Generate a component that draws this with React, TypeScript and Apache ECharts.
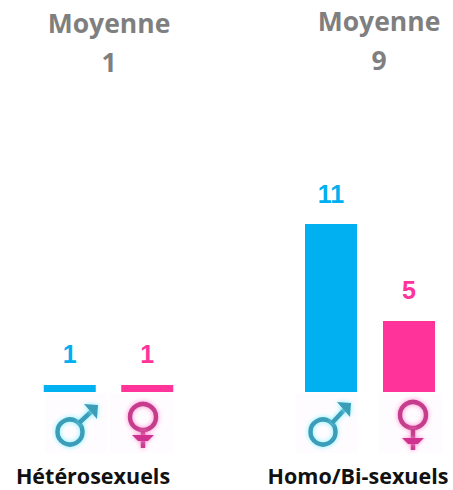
import React, { useEffect, useRef } from "react";
import * as echarts from "echarts";

const groups = ["Hétérosexuels", "Homo/Bi-sexuels"];
const averages = ["1", "9"];
const maleValues = [0.46, 11];
const femaleValues = [0.46, 4.65];
const maleLabels = ["1", "11"];
const femaleLabels = ["1", "5"];
const sexes = ["Homme", "Femme"];

const BLUE = "#00B0F0";
const PINK = "#FF3399";
const GREY = "#7F7F7F";
const FONT = "'Open Sans', 'DejaVu Sans', sans-serif";

function maleIcon(cx: number, cy: number, tipX: number, tipY: number, bgX: number, bgW: number) {
  const stroke = "#3A9DB8";
  const style = { stroke, lineWidth: 4.5, fill: "none", shadowColor: "#7FF0FF", shadowBlur: 5 };
  return [
    { type: "rect", shape: { x: bgX, y: 393, width: bgW, height: 60 }, style: { fill: "#FFFCFF" }, silent: true },
    { type: "circle", shape: { cx, cy, r: 12.5 }, style },
    { type: "line", shape: { x1: cx + 9, y1: cy - 9, x2: tipX - 5, y2: tipY + 5 }, style },
    {
      type: "polygon",
      shape: { points: [[tipX, tipY], [tipX - 14, tipY - 1], [tipX - 1, tipY + 14]] },
      style: { fill: stroke, shadowColor: "#7FF0FF", shadowBlur: 5 },
    },
  ];
}

function femaleIcon(cx: number, cy: number, bottom: number, barY: number, bgX: number, bgW: number) {
  const stroke = "#C73E8E";
  const style = { stroke, lineWidth: 4.5, fill: "none", shadowColor: "#FF8FD0", shadowBlur: 5 };
  return [
    { type: "rect", shape: { x: bgX, y: 393, width: bgW, height: 60 }, style: { fill: "#FFFCFF" }, silent: true },
    { type: "circle", shape: { cx, cy, r: 13 }, style },
    {
      type: "rect",
      shape: { x: cx - 2.25, y: cy + 14, width: 4.5, height: bottom - cy - 14 },
      style: { fill: stroke, shadowColor: "#FF8FD0", shadowBlur: 5 },
    },
    {
      type: "polygon",
      shape: { points: [[cx - 11, barY - 3], [cx + 11, barY - 3], [cx + 5, barY + 3], [cx - 5, barY + 3]] },
      style: { fill: "#D0308F", shadowColor: "#FF8FD0", shadowBlur: 4 },
    },
  ];
}

export default function App() {
  const ref = useRef<HTMLDivElement>(null);
  useEffect(() => {
    const chart = echarts.init(ref.current!, undefined, { renderer: "svg" });
    const grids = [
      { left: 31, width: 155, top: 224, height: 168, outerBoundsMode: "none" },
      { left: 292, width: 156, top: 224, height: 168, outerBoundsMode: "none" },
    ];
    const centers = [109, 379];
    const yOffsetTitle = [3, 1];
    const nameCenters = [93, 358];
    chart.setOption({
      animation: false,
      backgroundColor: "#FFFFFF",
      grid: grids,
      title: [
        ...groups.map((_, i) => ({
          text: "Moyenne\n" + averages[i],
          left: centers[i],
          top: yOffsetTitle[i],
          padding: 0,
          textAlign: "center",
          textStyle: { color: GREY, fontFamily: FONT, fontWeight: "bold", fontSize: 26.5, lineHeight: 39 },
        })),
        ...groups.map((g, i) => ({
          text: g,
          left: nameCenters[i],
          top: 460,
          padding: 0,
          textAlign: "center",
          textStyle: { color: "#111111", fontFamily: FONT, fontWeight: "bold", fontSize: 21.5, lineHeight: 30 },
        })),
      ],
      xAxis: groups.map((_, i) => ({
        type: "category",
        gridIndex: i,
        data: sexes,
        axisLine: { show: false },
        axisTick: { show: false },
        axisLabel: { show: false },
      })),
      yAxis: groups.map((_, i) => ({
        type: "value",
        gridIndex: i,
        min: 0,
        max: 11,
        show: false,
        splitLine: { show: false },
      })),
      series: groups.map((_, i) => ({
        type: "bar",
        xAxisIndex: i,
        yAxisIndex: i,
        barWidth: 52,
        data: [
          {
            value: maleValues[i],
            itemStyle: { color: BLUE },
            label: { color: BLUE, formatter: maleLabels[i] },
          },
          {
            value: femaleValues[i],
            itemStyle: { color: PINK },
            label: { color: PINK, formatter: femaleLabels[i] },
          },
        ],
        label: {
          show: true,
          position: "top",
          distance: 18,
          fontFamily: "'Liberation Sans', Arial, sans-serif",
          fontWeight: "bold",
          fontSize: 25,
        },
      })),
      graphic: [
        ...maleIcon(70, 432, 98, 405, 45, 62),
        ...femaleIcon(143, 417, 448, 438, 110, 63),
        ...maleIcon(323, 432, 351, 403, 296, 62),
        ...femaleIcon(413, 415, 450, 441, 379, 64),
      ],
    });
    return () => chart.dispose();
  }, []);
  return <div ref={ref} style={{ position: "fixed", left: 0, top: 0, width: 453, height: 490 }} />;
}
